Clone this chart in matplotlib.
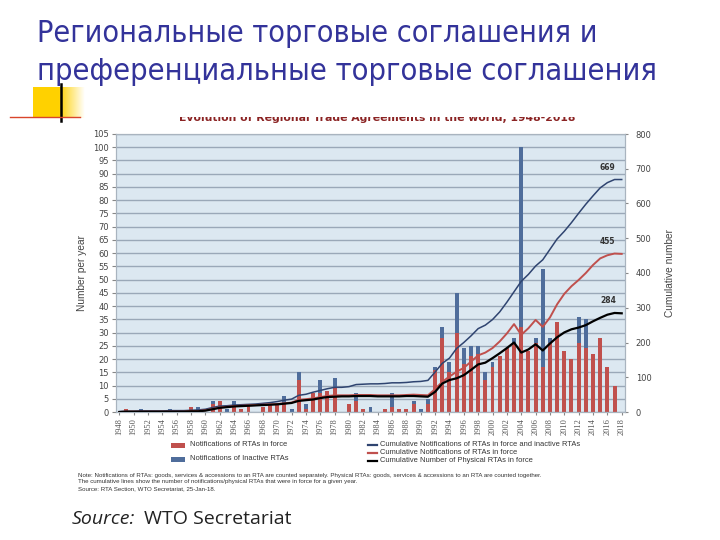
import matplotlib
matplotlib.use('Agg')
import matplotlib.pyplot as plt
import numpy as np
from matplotlib.patches import Rectangle
from matplotlib.lines import Line2D
from matplotlib import font_manager as fm

# ---------------- data ----------------
years = list(range(1948, 2019))
in_force = [0, 1, 0, 0, 0, 0, 0, 0, 0, 0,
            2, 0, 0, 3, 4, 0, 2, 1, 3, 0,
            2, 3, 3, 3, 0, 12, 1, 7, 7, 8,
            9, 0, 3, 4, 1, 0, 0, 1, 2, 1,
            1, 3, 0, 3, 16, 28, 15, 30, 18, 21,
            22, 12, 17, 21, 24, 26, 32, 23, 26, 17,
            26, 34, 23, 20, 26, 24, 22, 28, 17, 10, 0]
inactive = [0, 0, 0, 1, 0, 0, 0, 1, 0, 0,
            0, 2, 0, 1, 0, 1, 2, 0, 0, 0,
            0, 0, 0, 3, 1, 3, 2, 0, 5, 0,
            4, 0, 0, 3, 0, 2, 0, 0, 5, 0,
            0, 1, 1, 2, 1, 4, 4, 15, 6, 4,
            3, 3, 2, 0, 0, 2, 68, 0, 2, 37,
            2, 0, 0, 0, 10, 11, 0, 0, 0, 0, 0]
cum_all = [1, 2, 2, 3, 3, 3, 3, 4, 4, 4,
           5, 6, 8, 13, 17, 18, 20, 21, 22, 23,
           25, 27, 30, 34, 37, 48, 51, 57, 62, 67,
           71, 71, 73, 79, 80, 81, 81, 82, 84, 84,
           85, 87, 88, 91, 115, 140, 155, 183, 200, 219,
           240, 250, 266, 288, 316, 346, 376, 396, 420, 438,
           468, 498, 520, 545, 572, 598, 622, 645, 660, 669, 669]
cum_in_force = [0, 1, 1, 1, 1, 1, 1, 1, 1, 1,
                3, 3, 5, 9, 13, 15, 17, 18, 19, 20,
                21, 22, 23, 25, 27, 35, 37, 39, 43, 46,
                48, 48, 48, 49, 49, 49, 48, 48, 48, 48,
                49, 50, 49, 48, 66, 87, 102, 116, 127, 145,
                163, 171, 184, 203, 226, 253, 222, 241, 265, 245,
                272, 310, 340, 362, 380, 400, 423, 442, 451, 456, 455]
cum_physical = [0, 1, 1, 1, 1, 1, 1, 1, 1, 1,
                2, 2, 4, 8, 12, 14, 16, 17, 18, 19,
                20, 21, 22, 24, 26, 32, 34, 36, 40, 43,
                44, 45, 45, 46, 46, 46, 45, 45, 45, 45,
                46, 46, 45, 44, 58, 82, 92, 97, 106, 121,
                137, 142, 155, 169, 184, 200, 171, 180, 195, 177,
                197, 215, 229, 238, 243, 250, 261, 271, 280, 285, 284]

left_ticks = list(range(0, 106, 5))
right_ticks = list(range(0, 801, 100))
xtick_years = years[::2]

title_lines = ["Региональные торговые соглашения и",
               "преференциальные торговые соглашения"]
chart_title = "Evolution of Regional Trade Agreements in the world, 1948-2018"
legend_bars = ["Notifications of RTAs in force", "Notifications of Inactive RTAs"]
legend_lines = ["Cumulative Notifications of RTAs in force and inactive RTAs",
                "Cumulative Notifications of RTAs in force",
                "Cumulative Number of Physical RTAs in force"]
note_lines = ["Note: Notifications of RTAs: goods, services & accessions to an RTA are counted separately. "
              "Physical RTAs: goods, services & accessions to an RTA are counted together.",
              "The cumulative lines show the number of notifications/physical RTAs that were in force for a given year.",
              "Source: RTA Section, WTO Secretariat, 25-Jan-18."]

# ---------------- styles ----------------
RED = '#c0504d'
BLUE_BAR = '#4f6d9b'
BLUE_LINE = '#2f4470'
TITLE_C = '#33339a'
W, H = 720, 540


def fx(x):
    return x / W


def fy(y):
    return 1 - y / H


def pick_title_font():
    cands = [dict(family='Liberation Sans Narrow'),
             dict(family='DejaVu Sans', stretch='condensed'),
             dict(family='Roboto', stretch='condensed'),
             dict(family='Liberation Sans')]
    for c in cands:
        try:
            fp = fm.FontProperties(**c)
            path = fm.findfont(fp, fallback_to_default=False)
            name = path.lower()
            if c.get('family') == 'Liberation Sans Narrow' and 'narrow' not in name:
                continue
            if c.get('stretch') == 'condensed' and 'condens' not in name:
                continue
            return fm.FontProperties(fname=path)
        except Exception:
            continue
    return fm.FontProperties(family='DejaVu Sans')


fig = plt.figure(figsize=(7.2, 5.4), dpi=100)
fig.patch.set_facecolor('white')
renderer = fig.canvas.get_renderer()

# slide title, fitted to the reference line widths
title_fp = pick_title_font()
target_w = [562, 622]
for i, t in enumerate(title_lines):
    txt = fig.text(fx(37), fy(33 + 38 * i), t, fontproperties=title_fp, color=TITLE_C,
                   va='center', ha='left')
    txt.set_fontsize(25)
    w = txt.get_window_extent(renderer).width
    txt.set_fontsize(min(27, 25 * target_w[i] / w))

# decoration (yellow square, black bar, red line)
dax = fig.add_axes([fx(33), fy(118), fx(85) - fx(33), fy(87) - fy(118)])
grad = np.ones((2, 100, 3))
t = np.linspace(0, 1, 100)
fade = np.clip((t - 0.5) / 0.5, 0, 1)
grad[:, :, 0] = 1.0
grad[:, :, 1] = 0.82 + 0.18 * fade
grad[:, :, 2] = 0.0 + 1.0 * fade
dax.imshow(grad, aspect='auto', extent=[0, 1, 0, 1])
dax.axis('off')
fig.add_artist(Line2D([fx(61), fx(61)], [fy(84), fy(121)], color='black', lw=1.8))
fig.add_artist(Line2D([fx(10), fx(80)], [fy(117), fy(117)], color='#d9452b', lw=1.0))

# chart title (top half hidden as in the reference)
fig.text(fx(377), fy(118), chart_title, fontsize=7.8, color='#8b2323', weight='bold',
         ha='center', va='center', zorder=5)
fig.add_artist(Rectangle((0.15, fy(117)), 0.75, fy(100) - fy(117),
                         transform=fig.transFigure, facecolor='white',
                         edgecolor='none', zorder=10))

# main axes
ax = fig.add_axes([fx(115.7), fy(412), fx(625.3) - fx(115.7), fy(134) - fy(412)])
ax.set_facecolor('#dce8f1')
ax.bar(years, in_force, width=0.55, color=RED, zorder=2)
ax.bar(years, inactive, bottom=in_force, width=0.55, color=BLUE_BAR, zorder=2)
ax.set_xlim(1947.5, 2018.5)
ax.set_ylim(0, 105)
ax.set_yticks(left_ticks)
ax.yaxis.grid(True, color='#9aa8b8', lw=1.0)
ax.set_axisbelow(True)
ax.set_xticks(xtick_years)
ax.set_xticklabels([str(y) for y in xtick_years], rotation=90,
                   fontsize=6, family='Liberation Serif', color='#555555')
ax.tick_params(axis='x', length=2.5, pad=2, color='#888888')
ax.tick_params(axis='y', labelsize=6, labelcolor='#444444', length=3, pad=2, color='#888888')
for s in ax.spines.values():
    s.set_color('#a9b4bf')
ax.set_ylabel("Number per year", fontsize=7.3, color='#444444',
              family='Liberation Sans', labelpad=4)

ax2 = ax.twinx()
ax2.set_ylim(0, 800)
ax2.set_yticks(right_ticks)
ax2.tick_params(axis='y', labelsize=6, labelcolor='#444444', length=2.5, pad=5, color='#888888')
for s in ax2.spines.values():
    s.set_color('#a9b4bf')
ax2.plot(years, cum_all, color=BLUE_LINE, lw=1.1, zorder=3)
ax2.plot(years, cum_in_force, color=RED, lw=1.4, zorder=3)
ax2.plot(years, cum_physical, color='black', lw=1.6, zorder=3)
for series in (cum_all, cum_in_force, cum_physical):
    ax2.annotate(str(series[-1]), xy=(years[-1], series[-1]), xytext=(-10, 9),
                 textcoords='offset points', ha='center', va='center',
                 fontsize=5.5, weight='bold', color='#333333')
ax2.set_ylabel("Cumulative number", fontsize=7.3, color='#444444',
               family='Liberation Sans', labelpad=10)

# legend (drawn manually)
for i, (lab, col) in enumerate(zip(legend_bars, [RED, BLUE_BAR])):
    yy = 445 + 14 * i
    fig.add_artist(Rectangle((fx(171), fy(yy + 2.5)), fx(14), fy(0) - fy(5),
                             transform=fig.transFigure, facecolor=col, edgecolor='none'))
    fig.text(fx(190), fy(yy), lab, fontsize=5.4, color='#333333',
             family='Liberation Sans', va='center', ha='left')
for i, (lab, col) in enumerate(zip(legend_lines, [BLUE_LINE, RED, 'black'])):
    yy = 445 + 8 * i
    fig.add_artist(Line2D([fx(368), fx(377)], [fy(yy), fy(yy)], color=col, lw=1.6))
    fig.text(fx(380), fy(yy), lab, fontsize=5.4, color='#333333',
             family='Liberation Sans', va='center', ha='left')

for i, lab in enumerate(note_lines):
    fig.text(fx(78), fy(475 + 7 * i), lab, fontsize=4.4, color='#333333',
             family='Liberation Sans', va='center', ha='left')

src1 = fig.text(fx(72), fy(519), "Source:", fontsize=14, style='italic', color='#222222',
                family='Open Sans', va='center', ha='left')
x_end = src1.get_window_extent(renderer).x1
fig.text((x_end + 9) / W, fy(519), "WTO Secretariat", fontsize=14, color='#222222',
         family='Open Sans', va='center', ha='left')

fig.savefig('out.png', dpi=100)
